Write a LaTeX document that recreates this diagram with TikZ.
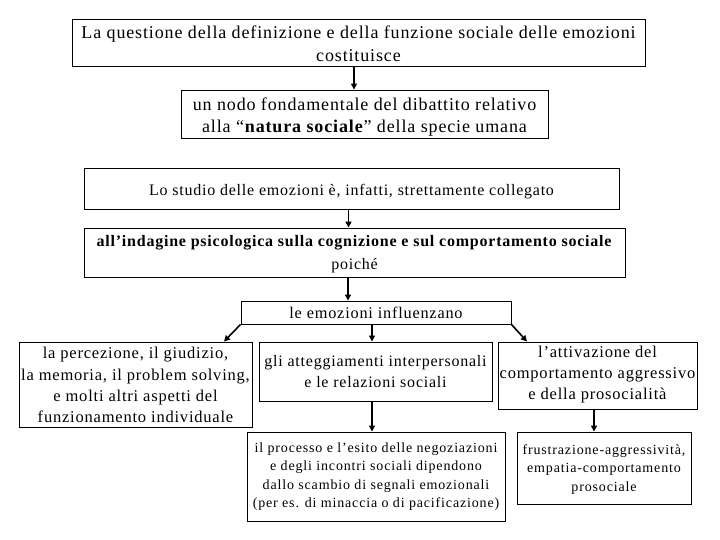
\documentclass[tikz,border=0pt]{standalone}
\usepackage{fontspec}
\setmainfont{Liberation Serif}[LetterSpace=4.8]
\usetikzlibrary{arrows.meta}
\newcommand{\fs}[2]{\fontsize{#1}{#2}\selectfont}
\tikzset{
  box/.style={draw=black, line width=0.9pt, rectangle, inner sep=0pt},
  txt/.style={inner sep=0pt, align=center},
  small/.style={font=\fs{14}{18.3}\addfontfeatures{LetterSpace=6}},
  arr/.style={line width=1.6pt, -{Triangle[length=6pt,width=6pt]}},
}
\begin{document}
\begin{tikzpicture}[x=1pt,y=-1pt]
\useasboundingbox[fill=white] (0,0) rectangle (720,540);
% frames
\node[box, minimum width=573pt, minimum height=47pt] (b1) at (358.5,42.5) {};
\node[box, minimum width=367pt, minimum height=48pt] (b2) at (364.5,114) {};
\node[box, minimum width=535pt, minimum height=41pt] (b3) at (351.5,188.5) {};
\node[box, minimum width=541pt, minimum height=49pt] (b4) at (354.5,252.5) {};
\node[box, minimum width=270pt, minimum height=23pt] (b5) at (376,312.5) {};
\node[box, minimum width=233pt, minimum height=85pt] (b6) at (135.5,384.5) {};
\node[box, minimum width=233pt, minimum height=59pt] (b7) at (375.5,371.5) {};
\node[box, minimum width=199pt, minimum height=67pt] (b8) at (597.5,375.5) {};
\node[box, minimum width=258pt, minimum height=89pt] (b9) at (376,476.5) {};
\node[box, minimum width=174pt, minimum height=72pt] (b10) at (604,468) {};
% texts
\node[txt, font=\fs{18}{22.5}] (t1) at ([yshift=-1.5pt]b1.center)
  {La questione della definizione e della funzione sociale delle emozioni\\costituisce};
\node[txt, font=\fs{18}{22}] (t2) at ([yshift=-3pt]b2.center)
  {un nodo fondamentale del dibattito relativo\\alla ``\textbf{natura sociale}'' della specie umana};
\node[txt, font=\fs{16}{20}] (t3) at ([yshift=-3pt]b3.center)
  {Lo studio delle emozioni è, infatti, strettamente collegato};
\node[txt, font=\fs{16}{23}] (t4) at ([yshift=-2pt]b4.center)
  {\textbf{all’indagine psicologica sulla cognizione e sul comportamento sociale}\\poiché};
\node[txt, font=\fs{16.3}{20}] (t5) at (b5.center)
  {le emozioni influenzano};
\node[txt, font=\fs{16.5}{21.2}] (t6) at ([yshift=-0.5pt]b6.center)
  {la percezione, il giudizio,\\la memoria, il problem solving,\\e molti altri aspetti del\\funzionamento individuale};
\node[txt, font=\fs{16}{21}] (t7) at (b7.center)
  {gli atteggiamenti interpersonali\\e le relazioni sociali};
\node[txt, font=\fs{16.5}{21}] (t8) at ([yshift=0.5pt]b8.center)
  {l’attivazione del\\comportamento aggressivo\\e della prosocialità};
\node[txt, small] (t9) at (b9.center)
  {il processo e l’esito delle negoziazioni\\e degli incontri sociali dipendono\\dallo scambio di segnali emozionali\\(per es. di minaccia o di pacificazione)};
\node[txt, small] (t10) at ([yshift=-1.5pt]b10.center)
  {frustrazione-aggressività,\\empatia-comportamento\\prosociale};
% connectors
\draw[arr] (b1.south -| 354,0) -- (b2.north -| 354,0);
\draw[arr] (b3.south -| 348.5,0) -- (b4.north -| 348.5,0);
\draw[arr] (b4.south -| 348,0) -- (b5.north -| 348,0);
\draw[arr] (b5.south west) -- (b6.north -| 224,0);
\draw[arr] (b5.south -| 372,0) -- (b7.north -| 372,0);
\draw[arr] (b5.south east) -- (b8.north -| 527,0);
\draw[arr] (b7.south -| 372,0) -- (b9.north -| 372,0);
\draw[arr] (b8.south -| 594,0) -- (b10.north -| 594,0);
\end{tikzpicture}
\end{document}
